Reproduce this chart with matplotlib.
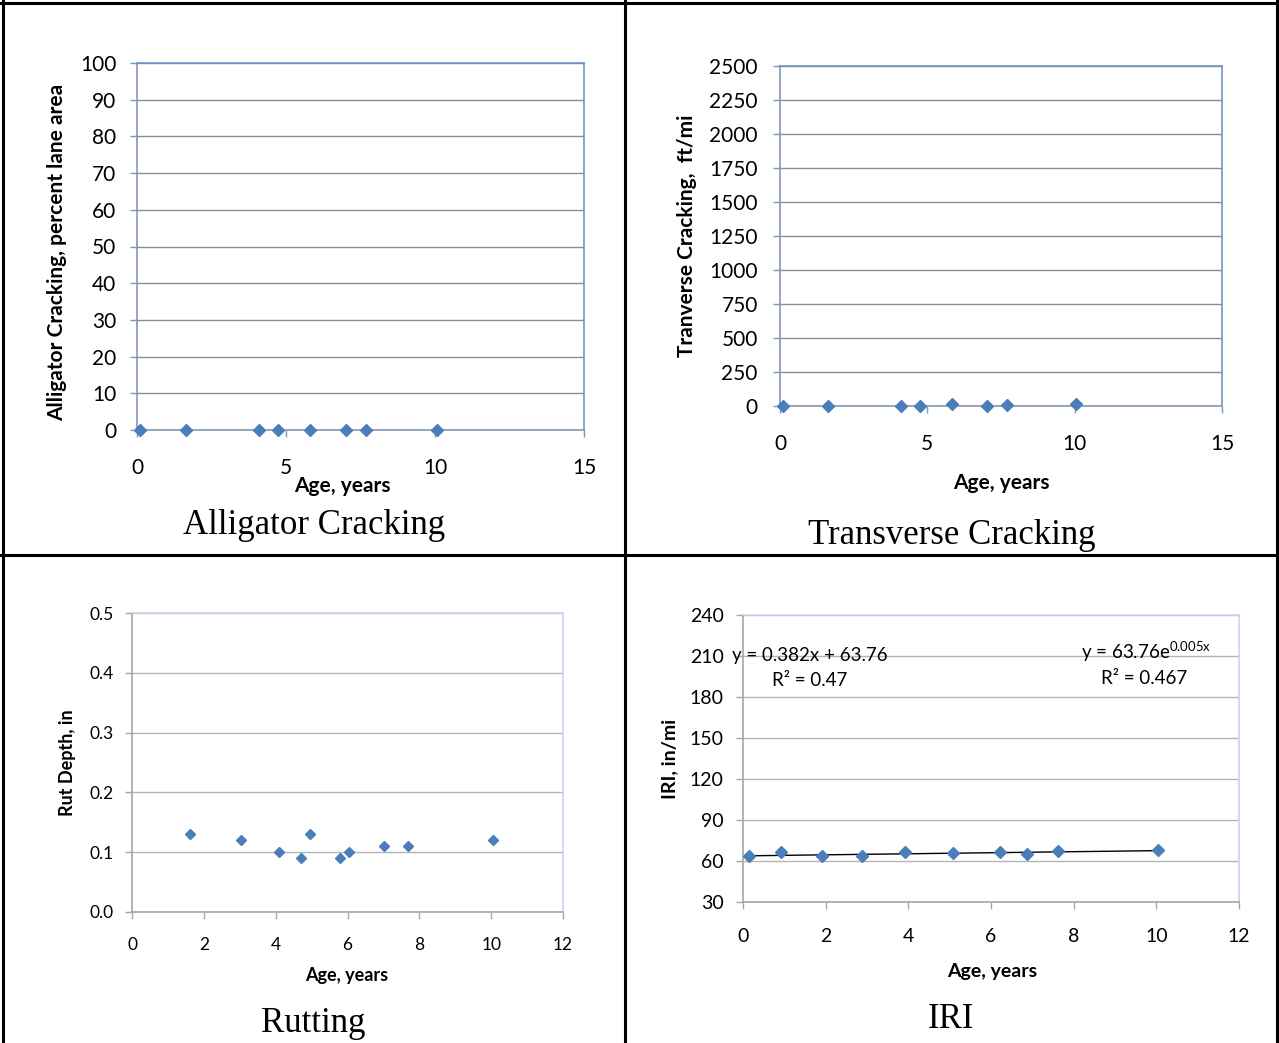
import matplotlib.pyplot as plt
from matplotlib.lines import Line2D
import numpy as np

plt.rcParams['font.family'] = ['Lato', 'DejaVu Sans']
plt.rcParams['mathtext.fontset'] = 'custom'
plt.rcParams['mathtext.rm'] = 'Lato'
plt.rcParams['mathtext.it'] = 'Lato:italic'

# alligator cracking
ac_age = [0.09, 1.63, 4.10, 4.73, 5.80, 7.01, 7.68, 10.06]
ac_val = [0, 0, 0, 0, 0, 0, 0, 0]

# transverse cracking
tc_age = [0.09, 1.63, 4.10, 4.74, 5.84, 7.02, 7.70, 10.06]
tc_val = [0, 0, 0, 0, 15, 0, 8, 15]

# rutting
rut_age = [1.61, 3.03, 4.08, 4.71, 4.96, 5.80, 6.03, 7.01, 7.68, 10.04]
rut_val = [0.13, 0.12, 0.10, 0.09, 0.13, 0.09, 0.10, 0.11, 0.11, 0.12]

# IRI
iri_age = [0.14, 0.92, 1.90, 2.87, 3.93, 5.09, 6.22, 6.87, 7.63, 10.05]
iri_val = [63.4, 66.6, 63.4, 63.9, 66.6, 65.9, 66.9, 64.9, 67.1, 68.1]
lin_slope, lin_icpt = 0.382, 63.76

W, H = 1279, 1043
blue = '#4a7ebb'
serif = ['Liberation Serif', 'DejaVu Serif']

fig = plt.figure(figsize=(W / 100, H / 100), dpi=100)


def fx(x):
    return x / W


def fy(y):
    return 1 - y / H


def make_ax(l, r, t, b, grid_c, frame_c, axis_c):
    ax = fig.add_axes([fx(l), fy(b), fx(r - l), (b - t) / H])
    ax.spines['top'].set_color(frame_c)
    ax.spines['right'].set_color(frame_c)
    ax.spines['left'].set_color(axis_c)
    ax.spines['bottom'].set_color(axis_c)
    for s in ax.spines.values():
        s.set_linewidth(1.2)
    ax.yaxis.grid(True, color=grid_c, lw=1)
    ax.set_axisbelow(True)
    ax.tick_params(colors=axis_c, labelcolor='black', length=5, width=1)
    return ax


# table borders
for x in [3, 625, 1277]:
    fig.add_artist(Line2D([fx(x), fx(x)], [0, 1], color='black', lw=2.2))
for y in [3, 555]:
    fig.add_artist(Line2D([0, 1], [fy(y), fy(y)], color='black', lw=2.2))

# Alligator cracking
ax1 = make_ax(137, 584, 63, 430, '#8c8c8c', '#6f95c8', '#8497b0')
ax1.plot(ac_age, ac_val, 'D', color=blue, ms=6, clip_on=False, zorder=5)
ax1.set_xlim(0, 15)
ax1.set_ylim(0, 100)
ax1.set_xticks([0, 5, 10, 15])
ax1.set_yticks(np.arange(0, 101, 10))
ax1.tick_params(axis='x', pad=15, labelsize=15)
ax1.tick_params(axis='y', pad=10, labelsize=15)
fig.text(fx(57), fy(252), 'Alligator Cracking, percent lane area', rotation=90,
         ha='center', va='center', fontsize=15, fontweight='bold')
fig.text(fx(342), fy(486), 'Age, years', ha='center', va='center', fontsize=15, fontweight='bold')
fig.text(fx(314), fy(526), 'Alligator Cracking', ha='center', va='center', fontsize=25, family=serif)

# Transverse cracking
ax2 = make_ax(780, 1222, 66, 406, '#8c8c8c', '#6f95c8', '#8497b0')
ax2.plot(tc_age, tc_val, 'D', color=blue, ms=6, clip_on=False, zorder=5)
ax2.set_xlim(0, 15)
ax2.set_ylim(0, 2500)
ax2.set_xticks([0, 5, 10, 15])
ax2.set_yticks(np.arange(0, 2501, 250))
ax2.tick_params(axis='x', pad=15, labelsize=15)
ax2.tick_params(axis='y', pad=11, labelsize=15)
fig.text(fx(687), fy(236), 'Tranverse Cracking,  ft/mi', rotation=90,
         ha='center', va='center', fontsize=15, fontweight='bold')
fig.text(fx(1001), fy(483), 'Age, years', ha='center', va='center', fontsize=15, fontweight='bold')
fig.text(fx(952), fy(536), 'Transverse Cracking', ha='center', va='center', fontsize=25, family=serif)

# Rutting
ax3 = make_ax(132, 563, 613, 912, '#b4b4b4', '#c6d6ec', '#a6a6a6')
ax3.plot(rut_age, rut_val, 'D', color=blue, ms=5, zorder=5)
ax3.set_xlim(0, 12)
ax3.set_ylim(0, 0.5)
ax3.set_xticks(np.arange(0, 13, 2))
ax3.set_yticks(np.arange(0, 0.51, 0.1))
ax3.set_yticklabels(['%.1f' % v for v in np.arange(0, 0.51, 0.1)])
ax3.tick_params(axis='x', pad=13, labelsize=12.5)
ax3.tick_params(axis='y', pad=8, labelsize=12.5)
fig.text(fx(68), fy(763), 'Rut Depth, in', rotation=90,
         ha='center', va='center', fontsize=13, fontweight='bold')
fig.text(fx(347), fy(976), 'Age, years', ha='center', va='center', fontsize=13, fontweight='bold')
fig.text(fx(313), fy(1023), 'Rutting', ha='center', va='center', fontsize=25, family=serif)

# IRI
ax4 = make_ax(743, 1239, 615, 902, '#b4b4b4', '#c6d6ec', '#a6a6a6')
ax4.plot(iri_age, iri_val, 'D', color=blue, ms=6, zorder=5)
xs = np.array([min(iri_age), max(iri_age)])
ax4.plot(xs, lin_slope * xs + lin_icpt, color='black', lw=1, zorder=4)
ax4.set_xlim(0, 12)
ax4.set_ylim(30, 240)
ax4.set_xticks(np.arange(0, 13, 2))
ax4.set_yticks(np.arange(30, 241, 30))
ax4.tick_params(axis='x', pad=14, labelsize=14)
ax4.tick_params(axis='y', pad=9, labelsize=14)
ax4.text(-0.27, 210.7, 'y = %.3fx + %.2f' % (lin_slope, lin_icpt), ha='left', va='center',
         fontsize=13.5, clip_on=False)
ax4.text(0.70, 192.4, 'R² = 0.47', ha='left', va='center', fontsize=13.5)
ax4.text(8.18, 212.9, 'y = 63.76e$^{\\mathrm{0.005x}}$', ha='left', va='center', fontsize=13.5)
ax4.text(8.66, 193.9, 'R² = 0.467', ha='left', va='center', fontsize=13.5)
fig.text(fx(670), fy(759), 'IRI, in/mi', rotation=90,
         ha='center', va='center', fontsize=14, fontweight='bold')
fig.text(fx(992), fy(972), 'Age, years', ha='center', va='center', fontsize=14, fontweight='bold')
fig.text(fx(951), fy(1020), 'IRI', ha='center', va='center', fontsize=25, family=serif)

fig.savefig('out.png', dpi=100)
